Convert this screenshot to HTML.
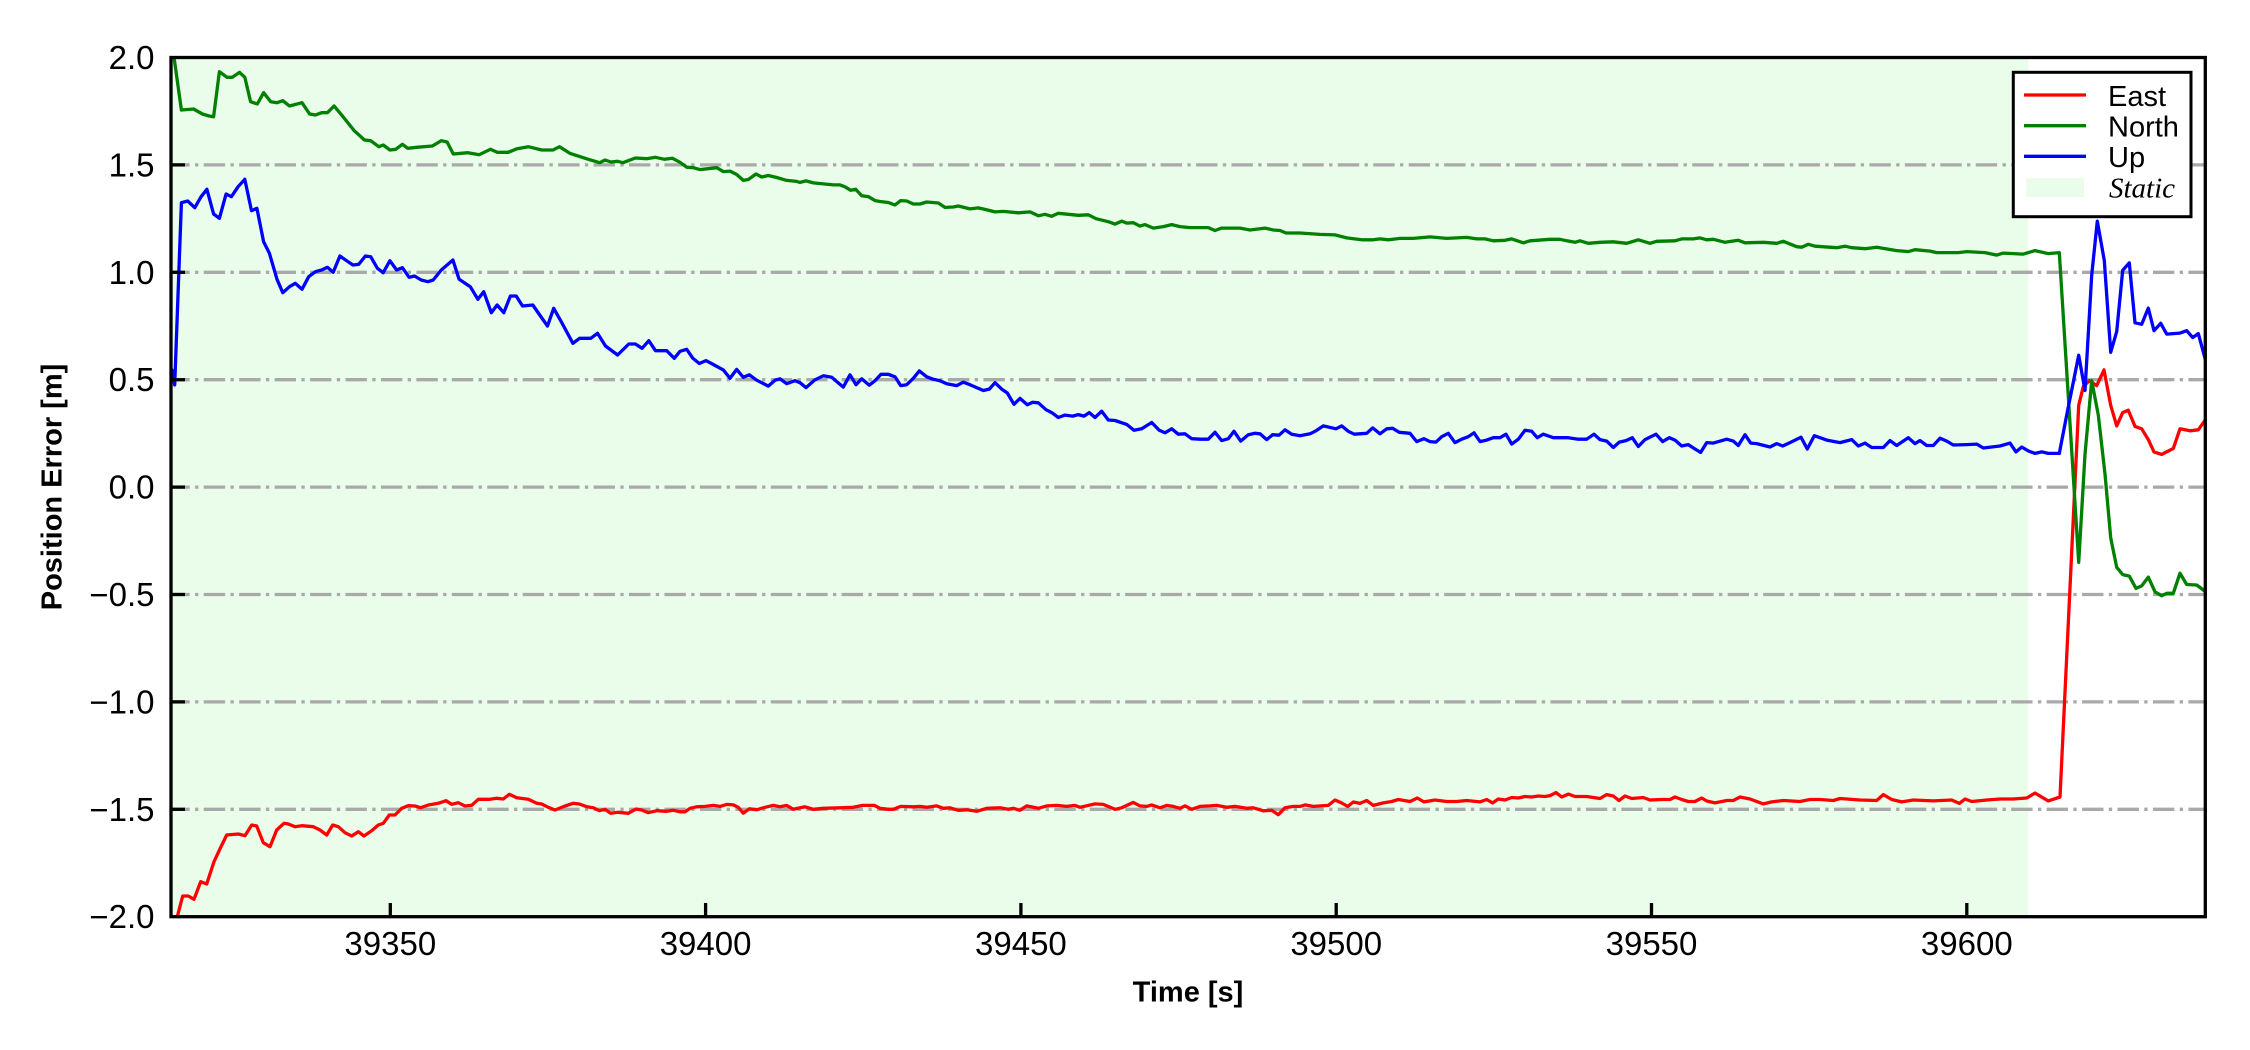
<!DOCTYPE html>
<html>
<head>
<meta charset="utf-8">
<style>
html,body{margin:0;padding:0;background:#ffffff;}
svg{display:block;}
text{font-family:"Liberation Sans", Arial, sans-serif;fill:#000;}
</style>
</head>
<body>
<svg width="2250" height="1050" viewBox="0 0 2250 1050" xmlns="http://www.w3.org/2000/svg">
<defs>
<clipPath id="ax"><rect x="171" y="57.5" width="2034.3" height="859.2"/></clipPath>
</defs>
<rect x="0" y="0" width="2250" height="1050" fill="#ffffff"/>
<!-- static span -->
<rect x="171" y="57.5" width="1857.3" height="859.2" fill="#eafdea"/>
<!-- grid -->
<g stroke="#a9a9a9" stroke-width="3.3" stroke-dasharray="21.4 5.35 3.34 5.35" stroke-dashoffset="2.7" fill="none">
<line x1="171" y1="164.9" x2="2205" y2="164.9"/>
<line x1="171" y1="272.3" x2="2205" y2="272.3"/>
<line x1="171" y1="379.7" x2="2205" y2="379.7"/>
<line x1="171" y1="487.1" x2="2205" y2="487.1"/>
<line x1="171" y1="594.5" x2="2205" y2="594.5"/>
<line x1="171" y1="701.9" x2="2205" y2="701.9"/>
<line x1="171" y1="809.3" x2="2205" y2="809.3"/>
</g>
<g clip-path="url(#ax)" fill="none" stroke-width="3.3" stroke-linejoin="round" stroke-linecap="round">
<!-- East -->
<polyline stroke="#ff0000" points="174,932 177.3,916.7 182.7,896 188.3,896 194,899.3 200.7,881.7 206.7,884 214,861.7 220.7,847.3 226.7,835 238.3,834 245,835.7 251.7,825 256.7,826 263.3,842.7 270,846.7 276.7,830 284,823.3 288.3,824 295,826.7 301.7,825.7 313.3,826.7 320,830 326.7,835 332.7,825 338.3,826.7 345,832.7 351.7,836 358.3,831.7 364,836 371.7,830.7 378.3,825 383.3,823.3 389.3,815 395,815 401.7,808.3 408.3,805.7 415,806 420.7,807.7 428.3,805 438.3,803.3 446,800.7 451.7,804.3 458.3,802.7 465,806 471.7,805.3 478.3,799.3 490,799.3 496.7,798.3 503.3,799 509.3,794.3 516.7,797.7 528.3,799.3 536.7,803.3 541.7,804 548.3,807.3 555,810 565,806 573.3,803.3 579.3,804 586.7,806.7 593.3,807.7 599.3,810.7 605,809.3 610.7,813.3 618.3,812.3 628.3,813.3 636,809 641.7,810 648.3,812.7 656.7,810.7 666.7,811.3 673.3,810.3 680,811.8 685,811.8 690,808.3 696.7,806.8 705,806.4 713.3,805.4 720,806.4 726.7,804.4 733.3,804.9 738.3,807.3 743.3,813.2 749.3,808.8 756.7,809.8 765,807.3 773.3,805.4 780,806.8 786.7,805.4 793.3,809.3 805,806.8 813.3,809.3 823.3,808.3 840,807.8 853.3,807.3 862.7,805.4 874.3,805.4 880,808.3 888.3,809.3 893.3,809.3 900.7,806.4 913.3,806.8 920,806.4 926.7,807.3 936.7,805.9 943.3,808.3 950,807.8 958.3,810.3 966.7,809.8 976.7,811.3 986.7,808.3 1000,807.8 1008.3,809.3 1013.3,808.3 1020,810.3 1026.7,805.9 1038.3,808.3 1046.7,805.9 1056.7,805.4 1066.7,806.4 1075,805.4 1080,807.3 1095,803.9 1103.3,804.4 1115,809.3 1121.7,807.8 1133.3,802.4 1140,805.9 1146.7,806.4 1151.7,804.9 1160,807.8 1166.7,805.4 1173.3,806.4 1180,808.3 1185,805.9 1191.7,809.3 1200,806.4 1210,805.9 1216.7,805.4 1226.7,807.3 1235,806.4 1246.7,808.3 1253.3,807.8 1263.3,810.8 1271.7,810.3 1278.3,814.7 1285,807.8 1293.3,806.4 1300,806.4 1305,804.9 1313.3,806.4 1328.3,805.4 1335,800 1341.7,803 1347.7,806.4 1353.3,802 1360,803.4 1366.7,800.5 1373.3,805.4 1383.3,802.9 1391.7,801.5 1398.3,799.5 1410,801.5 1417.3,798 1424,801.9 1435,800 1446.7,801.5 1456.7,801.5 1466.7,800.5 1480,801.9 1486.7,799.5 1492.7,802.9 1498.3,799 1505,800 1511.7,797.5 1518.3,798 1525,796.5 1531.7,797 1538.3,796 1545,796.5 1550,795.6 1556,792.6 1561.7,797 1568.3,794.1 1575,796.5 1586.7,796.5 1600,798.5 1606.7,794.6 1613.3,796 1619,800.5 1625,796 1631.7,798.5 1643.3,797.5 1650,800 1661.7,799.5 1670,799.5 1675,797 1681.7,799.5 1688.3,801.5 1695,801.5 1701.7,798 1706.7,801 1715,802.9 1726.7,800.5 1733.3,800.5 1740,797 1750,799 1763.3,803.9 1771.7,801.9 1783.3,800.5 1800,801.5 1810,799.5 1820,799.5 1833.3,800.5 1840,798.5 1860,800 1876.7,800.5 1883.3,794.6 1891.7,799.5 1901.7,801.9 1913.3,800 1933.3,800.9 1951.7,800 1959.3,803.4 1965,799 1971.7,801.5 1986.7,800 2000,799 2013.3,799 2026.7,798 2035,793.1 2048.3,800.9 2060,797 2078.7,405.3 2083.3,386.6 2089.3,380.7 2096.7,385.6 2104,369.9 2110.7,405.3 2116.7,425.9 2122.7,412.6 2128.3,410.2 2135,426.4 2141.7,428.8 2148.3,439.6 2154,451.9 2161.7,454.4 2173.3,448.5 2180,428.8 2190,430.8 2198.3,429.8 2206,419"/>
<!-- North -->
<polyline stroke="#008000" points="173,55 174.3,59.3 181.4,110 193.5,109 202.4,114 209.1,116 213.6,116.7 219.4,71.7 227,77.3 232.3,77.3 239.5,72.3 244.8,77.3 250.6,101.7 257.3,104 263.6,92.7 270.7,101.7 277,102.7 282.8,100.7 289.5,106 302,102.7 309.6,114 315.4,115 321.6,112.7 327.4,112.7 334.1,106 343,116.7 354.2,130.7 364.5,140 370.7,140.7 378.8,146.7 383.2,145 389.9,150 395.7,149.3 402.4,144.3 407.8,148.3 416.7,147.3 432.3,146 441.3,140.7 447.1,142 453.3,154 468,152.7 479.2,154.7 490.4,149.3 497.1,152.3 508.2,152.3 517.1,148.7 528.3,146.7 541.7,150 552.9,150 559.6,146.7 569.8,153.3 586.3,158.7 599.7,162.7 605.1,160 610.9,162 617.6,161.3 622.9,162.7 635.4,158 646.6,158.7 655.5,157.3 664.5,159.3 672.5,158.3 680,162.3 686.7,167.2 693.3,167.7 700,169.6 716.7,167.7 723.3,171.6 730,171.1 736.7,174.5 743.3,180.4 748.3,179.5 756,174 761.7,177 768.3,175.5 776.7,177.5 786.7,180.4 796.7,181.4 800,182.4 806,180.9 813.3,182.9 833.3,184.9 840,184.9 845,186.8 850.7,190.3 855.7,189.3 861.7,195.7 868.3,196.6 875,200.6 880,201.5 888.3,202.5 895,205 900.7,200.6 906.7,201 913.3,204 920,204 926.7,202 938.3,203 945,207.4 953.3,207 958.3,206 970,208.9 978.3,207.9 985,209.4 995,211.9 1003.3,211.4 1018.3,212.8 1030,211.9 1038.3,215.8 1045,214.3 1051.7,216.3 1058.3,213.3 1068.3,214.3 1078.3,215.3 1088.3,214.8 1096,218.7 1108.3,221.7 1115,224.1 1121.7,221.2 1126.7,223.1 1133.3,222.7 1140,226.1 1145,224.6 1153.3,228.1 1163.3,226.6 1171.7,224.6 1180,226.6 1190,227.6 1200,227.6 1208.3,227.6 1215,230.5 1221.7,228.1 1240,228.1 1250,230 1265,228.1 1273.3,230 1280,230.5 1286,233 1300,233 1320,234.4 1335,234.9 1346.7,237.9 1361.7,239.8 1373.3,239.8 1380,238.9 1388.3,239.8 1400,238.4 1413.3,238.4 1430,236.9 1446.7,238.4 1466.7,237.4 1476.7,238.9 1485,238.9 1493.3,240.8 1505,240.3 1511.7,238.9 1523.3,242.8 1530,240.8 1550,239.3 1560,239.3 1566.7,240.8 1575,242.3 1580,240.8 1588.3,243.3 1600,242.3 1613.3,241.8 1626.7,243.3 1638.3,239.8 1650,243.3 1656.7,241.3 1675,240.8 1681.7,238.9 1693.3,238.9 1700,237.9 1706.7,239.8 1713.3,239.3 1725,242.3 1738.3,240.3 1745,242.8 1763.3,242.3 1776.7,243.3 1783.3,241.3 1796.7,246.7 1801.7,247.2 1808.3,244.3 1815,246.2 1836.7,247.7 1845,246.2 1851.7,247.7 1865,248.7 1876.7,247.2 1896.7,250.6 1908.3,251.6 1915,249.7 1930,251.1 1936.7,252.6 1958.3,252.6 1966.7,251.6 1985,252.6 1996.7,255.1 2003.3,253.1 2023.3,254.1 2035,250.6 2048.3,253.6 2059.3,252.6 2078.7,562.4 2085,454.4 2091.7,380.7 2098.3,415.1 2105,474 2110.7,537.8 2116.7,567.3 2122.7,574.6 2129.3,576.1 2136,588.4 2141.7,585.9 2148.3,577.1 2155,591.8 2161.7,595.8 2166.7,593.3 2173.3,593.3 2180,573.2 2186.7,584.5 2196.7,585 2206,592"/>
<!-- Up -->
<polyline stroke="#0000ff" points="172,370 174.7,385 181.4,202.7 187.7,201 194.8,207.7 201.1,196.7 206.9,189.3 213.6,214 219.4,218.3 226.1,194 231.4,196.7 238.1,186.7 244.8,179.3 251.5,210.7 256.9,208.3 263.6,241.7 269.4,253.3 277,279.3 282.8,292.7 289.5,286.7 295.3,283.3 302,289.3 308.7,276.7 315.4,271.7 321.6,270 327.4,267.3 333.2,272.3 339.9,256 346.6,260.7 352.9,265 358.7,264.3 365.4,256 370.7,256.7 377.4,268.3 383.2,272.7 389.9,260.7 396.6,270 402.4,267.7 409.1,277.3 414.5,276 421.2,280 427.9,281.7 433.2,280 441.3,270 452.9,260 459.1,279.3 470.3,286.7 477.9,299.3 483.7,291.7 491.3,312.7 497.1,305 503.8,312.7 510.4,296 516.2,296 522.5,306 532.8,305 540.4,316 547.5,326 553.7,308.3 561.8,322.7 572.9,343.3 579.6,338.3 590.8,338.3 597.5,333.3 605.5,346 617.6,355 628.8,344 635.4,344 642.1,348.3 648.8,340.7 655.5,350.7 666.7,350.7 674.3,358.3 680,351.3 686.7,349.3 692.7,358.1 699.3,363.5 706,360.6 713.3,364.5 723.3,369.9 730,378.3 736.7,369.4 743.3,377.3 749.3,374.8 756.7,380.2 768.3,386.1 775,380.2 780,378.8 786.7,383.7 795,380.7 800,382.7 806,387.6 815,379.8 823.3,375.8 831.7,377.3 843.3,387.1 850,374.8 856,384.7 861.7,378.8 869.3,385.2 875,380.7 881,374.3 888.3,374.3 895,376.8 900.7,385.6 906.7,384.7 913.3,378.3 919.3,370.9 926.7,376.8 933.3,379.3 940,380.7 946.7,383.7 956.7,385.6 963.3,382.2 970,384.7 983.3,390.5 989.3,389.1 995,382.7 1001.7,389.1 1007.3,393 1014,404.3 1020,398.4 1027.3,404.8 1032.7,402.3 1038.3,402.8 1046,409.7 1051.7,412.6 1058.3,417.5 1065,415.1 1072.7,416.1 1078.3,414.6 1084,416.1 1089.3,412.6 1095,417.5 1101.7,411.2 1108.3,420 1115,420.5 1126.7,424.4 1134,430.3 1141.7,428.8 1151.7,422.5 1159.3,430.3 1165,432.8 1171.7,428.8 1178.3,434.2 1185,433.8 1191.7,438.7 1200,439.2 1208.3,439.2 1215,432.3 1221.7,440.6 1228.3,438.7 1234,431.3 1240.7,441.1 1248.3,434.7 1255,433.3 1260,433.8 1266.7,439.6 1272.7,434.7 1279,435.2 1285,429.8 1291.7,434.2 1300,435.7 1310,433.8 1316,430.8 1323.3,425.9 1336,428.8 1341.7,425.9 1348.3,431.3 1354.3,434.2 1366.7,433.3 1372.7,427.9 1380,433.8 1386.7,428.8 1392.7,428.3 1399.3,432.3 1410,433.3 1416.7,441.6 1424,438.7 1430,441.6 1436,442.1 1441.7,436.7 1448.3,433.3 1455,442.6 1461.7,439.2 1468.3,436.7 1474,432.8 1480,441.6 1486.7,440.1 1493.3,437.7 1500,437.7 1506,434.2 1511.7,444.1 1518.3,439.2 1525,430.3 1531.7,431.3 1537.3,437.7 1543.3,434.2 1553.3,437.7 1568.3,437.7 1578.3,439.2 1586.7,439.2 1594,434.2 1600,439.6 1606.7,441.1 1613.3,447.5 1619.3,442.1 1626,440.6 1632.3,437.7 1638.3,446.5 1645,439.6 1656,434.2 1662.7,441.6 1669.3,437.7 1675,440.1 1681.7,446 1688.3,444.6 1695,449 1700.7,452.4 1706.7,442.6 1713.3,443.1 1726.7,439.2 1733.3,441.1 1738.3,445.5 1745,434.7 1750.7,443.1 1756.7,443.6 1770,447 1776.7,443.6 1782.7,446 1790,442.6 1801,437.2 1807.3,449 1814.3,435.7 1826.7,440.1 1840,442.6 1851.7,439.6 1858.3,446 1865,443.1 1871.7,447.5 1883.3,447.5 1890,440.6 1896.7,445.5 1908.3,437.7 1915,443.6 1920,440.6 1926.7,445.5 1933.3,445.5 1940,438.2 1946.7,441.1 1953.3,445 1966.7,444.6 1976.7,444.1 1983.3,448 2000,446 2010,443.1 2016,451.9 2021.7,447 2028.3,450.9 2035,453.4 2041.7,451.9 2048.3,453.4 2059.3,453.4 2066.7,415.1 2078.7,355.2 2085,390.5 2091.7,275.2 2097.3,221.2 2104.3,260.5 2110.7,352.3 2116.7,331.6 2122.7,270.3 2129.3,262.9 2135,322.8 2141.7,324.3 2148.3,308.1 2154,330.7 2160.7,323.3 2166.7,334.1 2180,333.1 2186.7,330.7 2192.7,337.5 2198.3,333.6 2206,362"/>
</g>
<!-- spines -->
<rect x="171" y="57.5" width="2034.3" height="859.2" fill="none" stroke="#000" stroke-width="3.3"/>
<!-- ticks -->
<g stroke="#000" stroke-width="3.3">
<line x1="171" y1="164.9" x2="185" y2="164.9"/>
<line x1="171" y1="272.3" x2="185" y2="272.3"/>
<line x1="171" y1="379.7" x2="185" y2="379.7"/>
<line x1="171" y1="487.1" x2="185" y2="487.1"/>
<line x1="171" y1="594.5" x2="185" y2="594.5"/>
<line x1="171" y1="701.9" x2="185" y2="701.9"/>
<line x1="171" y1="809.3" x2="185" y2="809.3"/>
<line x1="390.3" y1="916.7" x2="390.3" y2="903"/>
<line x1="705.6" y1="916.7" x2="705.6" y2="903"/>
<line x1="1020.9" y1="916.7" x2="1020.9" y2="903"/>
<line x1="1336.2" y1="916.7" x2="1336.2" y2="903"/>
<line x1="1651.5" y1="916.7" x2="1651.5" y2="903"/>
<line x1="1966.8" y1="916.7" x2="1966.8" y2="903"/>
</g>
<!-- y tick labels -->
<g font-size="33" text-anchor="end">
<text x="154.5" y="69">2.0</text>
<text x="154.5" y="176.4">1.5</text>
<text x="154.5" y="283.8">1.0</text>
<text x="154.5" y="391.2">0.5</text>
<text x="154.5" y="498.6">0.0</text>
<text x="154.5" y="606">−0.5</text>
<text x="154.5" y="713.4">−1.0</text>
<text x="154.5" y="820.8">−1.5</text>
<text x="154.5" y="928.2">−2.0</text>
</g>
<!-- x tick labels -->
<g font-size="33" text-anchor="middle">
<text x="390.3" y="955">39350</text>
<text x="705.6" y="955">39400</text>
<text x="1020.9" y="955">39450</text>
<text x="1336.2" y="955">39500</text>
<text x="1651.5" y="955">39550</text>
<text x="1966.8" y="955">39600</text>
</g>
<!-- axis labels -->
<text x="1188" y="1001.5" font-size="29" font-weight="bold" text-anchor="middle">Time [s]</text>
<text transform="translate(61.7,487) rotate(-90)" font-size="29" font-weight="bold" text-anchor="middle">Position Error [m]</text>
<!-- legend -->
<rect x="2013.3" y="72.3" width="177.7" height="144.4" fill="#ffffff" stroke="#000" stroke-width="3"/>
<line x1="2024" y1="95" x2="2086" y2="95" stroke="#ff0000" stroke-width="3.3"/>
<line x1="2024" y1="125.7" x2="2086" y2="125.7" stroke="#008000" stroke-width="3.3"/>
<line x1="2024" y1="156.3" x2="2086" y2="156.3" stroke="#0000ff" stroke-width="3.3"/>
<rect x="2026" y="178" width="58" height="19" fill="#eafdea"/>
<g font-size="29">
<text x="2108" y="105.8">East</text>
<text x="2108" y="136.3">North</text>
<text x="2108" y="166.8">Up</text>
<text x="2109" y="197.5" style="font-family:'Liberation Serif','Times New Roman',serif;font-style:italic;">Static</text>
</g>
</svg>
</body>
</html>
